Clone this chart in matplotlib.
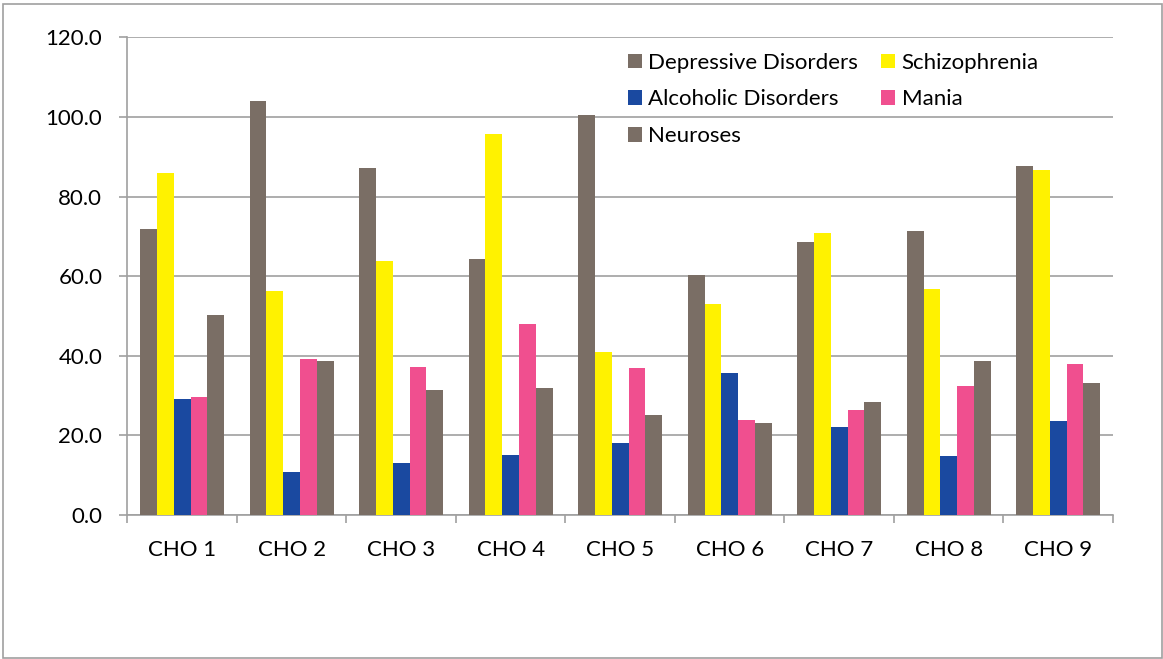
import numpy as np
import matplotlib
matplotlib.use("Agg")
import matplotlib.pyplot as plt
from matplotlib.patches import Rectangle, Patch
from matplotlib.ticker import FormatStrFormatter, FixedLocator

categories = ["CHO 1", "CHO 2", "CHO 3", "CHO 4", "CHO 5", "CHO 6", "CHO 7", "CHO 8", "CHO 9"]
depressive = [71.8, 103.9, 87.2, 64.4, 100.6, 60.4, 68.6, 71.4, 87.8]
schizophrenia = [85.8, 56.4, 63.8, 95.6, 41.0, 53.0, 70.9, 56.8, 86.6]
alcoholic = [29.2, 10.8, 13.0, 15.0, 18.0, 35.7, 22.1, 14.7, 23.6]
mania = [29.7, 39.2, 37.3, 48.0, 36.9, 23.8, 26.3, 32.3, 38.0]
neuroses = [50.3, 38.8, 31.3, 31.9, 25.0, 23.1, 28.5, 38.7, 33.1]

series = [
    ("Depressive Disorders", depressive, "#7A6E65"),
    ("Schizophrenia", schizophrenia, "#FFF200"),
    ("Alcoholic Disorders", alcoholic, "#1A49A0"),
    ("Mania", mania, "#F04F8F"),
    ("Neuroses", neuroses, "#7A6E65"),
]

plt.rcParams["font.family"] = ["Lato", "DejaVu Sans"]
FS = 16

fig = plt.figure(figsize=(11.63, 6.59), dpi=100)
ax = fig.add_axes([0.1095, 0.2185, 0.8475, 0.7248])

x = np.arange(len(categories))
bw = 0.1533
handles = {}
for i, (name, vals, col) in enumerate(series):
    offs = (i - 2) * bw
    ax.bar(x + offs, vals, width=bw, color=col, edgecolor="none", zorder=3)
    handles[name] = Patch(facecolor=col, edgecolor="none", label=name)

ax.set_xlim(-0.5, len(categories) - 0.5)
ax.set_ylim(0, 120)
ax.set_yticks(np.arange(0, 121, 20))
ax.yaxis.set_major_formatter(FormatStrFormatter("%.1f"))
ax.grid(axis="y", color="#A0A0A0", linewidth=1.2, zorder=0)
ax.set_axisbelow(True)

for s in ["top", "right"]:
    ax.spines[s].set_visible(False)
for s in ["left", "bottom"]:
    ax.spines[s].set_color("#A0A0A0")
    ax.spines[s].set_linewidth(1.2)

ax.tick_params(axis="y", length=6, width=1.2, color="#A0A0A0", pad=12,
               labelsize=FS, labelcolor="black")
ax.set_xticks(x)
ax.set_xticklabels(categories)
ax.xaxis.set_minor_locator(FixedLocator(np.arange(-0.5, len(categories), 1.0)))
ax.tick_params(axis="x", which="major", length=0, pad=18, labelsize=FS, labelcolor="black")
ax.tick_params(axis="x", which="minor", length=6, width=1.2, color="#A0A0A0")

order = ["Depressive Disorders", "Alcoholic Disorders", "Neuroses", "Schizophrenia", "Mania"]
ax.legend([handles[n] for n in order], order, ncol=2, frameon=False,
          fontsize=FS, handlelength=0.63, handleheight=0.63, handletextpad=0.28,
          columnspacing=1.05, labelspacing=0.75,
          loc="upper left", bbox_to_anchor=(0.54, 0.92),
          bbox_transform=fig.transFigure, borderaxespad=0, borderpad=0)

fig.patches.append(Rectangle((0.0026, 0.0015), 0.9966, 0.9917, transform=fig.transFigure,
                             fill=False, edgecolor="#A0A0A0", linewidth=1.2))

fig.savefig("out.png", dpi=100)
